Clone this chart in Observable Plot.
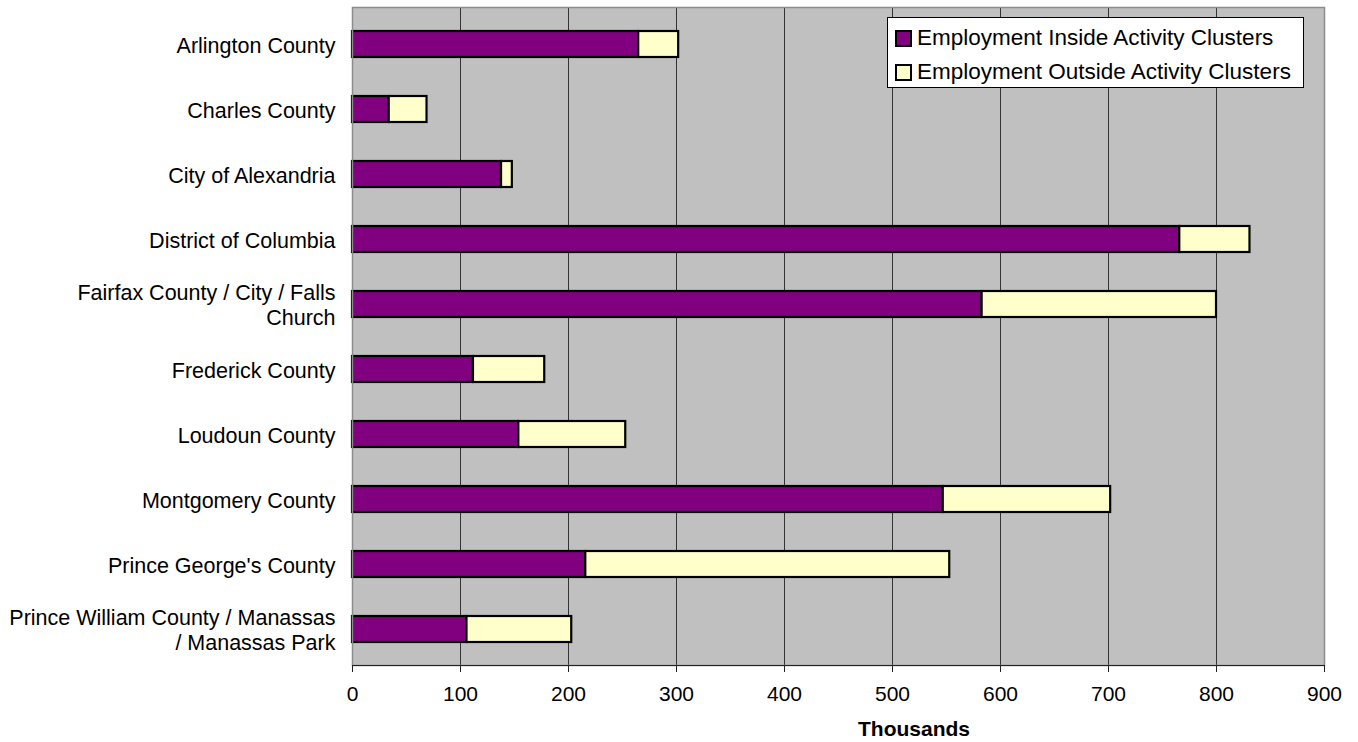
<!DOCTYPE html>
<html>
<head>
<meta charset="utf-8">
<script src="https://cdn.jsdelivr.net/npm/d3@7"></script>
<script src="https://cdn.jsdelivr.net/npm/@observablehq/plot@0.6"></script>
<style>
  html, body { margin: 0; padding: 0; background: #fff; }
  #wrap { position: relative; width: 1358px; height: 742px; font-family: "Liberation Sans", Arial, sans-serif; }
  #legend { position: absolute; left: 887px; top: 17px; width: 417px; height: 71px; background: #fff; border: 1px solid #000; box-sizing: border-box; }
  .row { position: absolute; left: 7px; height: 24px; display: flex; align-items: center; font-size: 22.5px; color: #000; white-space: nowrap; }
  .sw { width: 13px; height: 13px; border: 2px solid #000; margin-right: 5px; flex: none; }
  #xtitle { position: absolute; left: 914px; top: 729px; transform: translate(-50%, -50%); font-size: 21px; font-weight: bold; color: #000; white-space: nowrap; }
</style>
</head>
<body>
<div id="wrap"></div>
<script>
const categories = [
  "Arlington County",
  "Charles County",
  "City of Alexandria",
  "District of Columbia",
  "Fairfax County / City / Falls Church",
  "Frederick County",
  "Loudoun County",
  "Montgomery County",
  "Prince George's County",
  "Prince William County / Manassas / Manassas Park"
];
const categoryLabels = [
  "Arlington County",
  "Charles County",
  "City of Alexandria",
  "District of Columbia",
  "Fairfax County / City / Falls\nChurch",
  "Frederick County",
  "Loudoun County",
  "Montgomery County",
  "Prince George's County",
  "Prince William County / Manassas\n/ Manassas Park"
];
const seriesNames = ["Employment Inside Activity Clusters", "Employment Outside Activity Clusters"];
const seriesColors = ["#800080", "#FFFFCC"];
const insideValues  = [265, 34, 138, 766, 583, 112, 154, 547, 216, 106];
const outsideValues = [37, 35, 10, 65, 217, 66, 99, 155, 337, 97];
const xTicks = [0, 100, 200, 300, 400, 500, 600, 700, 800, 900];
const gridTicks = [100, 200, 300, 400, 500, 600, 700, 800];

const rows = [];
categories.forEach((c, i) => {
  rows.push({county: c, series: seriesNames[0], value: insideValues[i]});
  rows.push({county: c, series: seriesNames[1], value: outsideValues[i]});
});
const labelOf = new Map(categories.map((c, i) => [c, categoryLabels[i]]));

const chart = Plot.plot({
  width: 1358,
  height: 742,
  marginTop: 7,
  marginBottom: 77,
  marginLeft: 352,
  marginRight: 34,
  style: {fontFamily: "'Liberation Sans', Arial, sans-serif", color: "#000", background: "transparent"},
  x: {domain: [0, 900]},
  y: {type: "band", domain: categories, paddingInner: 0.6, paddingOuter: 0.3},
  color: {domain: seriesNames, range: seriesColors},
  marks: [
    Plot.frame({fill: "#C0C0C0", stroke: null}),
    Plot.gridX(gridTicks, {stroke: "#333", strokeOpacity: 1, strokeWidth: 1}),
    Plot.barX(rows, Plot.stackX({x: "value", y: "county", fill: "series", stroke: "#000", strokeWidth: 2.2, order: null})),
    Plot.frame({stroke: "#8c8c8c", strokeWidth: 1.5}),
    Plot.frame({anchor: "bottom", stroke: "#222", strokeWidth: 1}),
    Plot.axisX({ticks: xTicks, tickSize: 7, tickPadding: 14, fontSize: 21, label: null, stroke: "#222"}),
    Plot.axisY({tickSize: 0, tickPadding: 17, fontSize: 21.5, lineHeight: 1.17, label: null, tickFormat: d => labelOf.get(d)})
  ]
});

const wrap = document.getElementById("wrap");
wrap.appendChild(chart);

const legend = document.createElement("div");
legend.id = "legend";
seriesNames.forEach((name, i) => {
  const row = document.createElement("div");
  row.className = "row";
  row.style.top = (i === 0 ? 8 : 42) + "px";
  const sw = document.createElement("div");
  sw.className = "sw";
  sw.style.background = seriesColors[i];
  const t = document.createElement("span");
  t.textContent = name;
  row.appendChild(sw);
  row.appendChild(t);
  legend.appendChild(row);
});
wrap.appendChild(legend);

const xt = document.createElement("div");
xt.id = "xtitle";
xt.textContent = "Thousands";
wrap.appendChild(xt);
</script>
</body>
</html>
